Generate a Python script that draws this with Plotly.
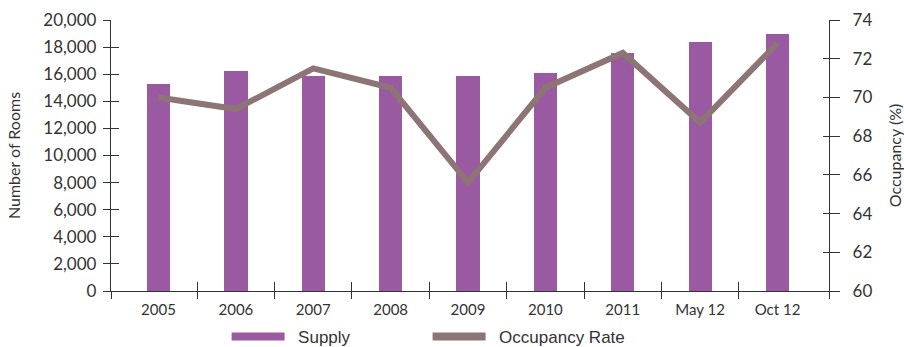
import plotly.graph_objects as go

# Hotel room supply and occupancy rate
periods = ["2005", "2006", "2007", "2008", "2009", "2010", "2011", "May 12", "Oct 12"]
supply = [15300, 16200, 15900, 15900, 15900, 16100, 17600, 18400, 19000]
occupancy = [70.0, 69.4, 71.5, 70.5, 65.6, 70.5, 72.3, 68.7, 72.8]

BAR_COLOR = "#9a5aa2"
LINE_COLOR = "#8e7575"
AXIS_COLOR = "#333333"
TEXT_COLOR = "#333333"

idx = list(range(len(periods)))
x_range = [-0.614, len(periods) - 1 + 0.665]
boundaries = [i + 0.5 for i in range(len(periods) - 1)]

fig = go.Figure()

# empty traces so the overlay axes (cross ticks) get rendered
for xa, ya in [("x3", "y"), ("x4", "y"), ("x", "y3"), ("x", "y4")]:
    fig.add_trace(go.Scatter(x=[None], y=[None], xaxis=xa, yaxis=ya,
                             showlegend=False, hoverinfo="skip"))

fig.add_trace(go.Bar(
    x=idx, y=supply, width=0.3, marker=dict(color=BAR_COLOR, line=dict(width=0)),
    name="Supply", showlegend=False, legendgroup="supply", yaxis="y",
))
fig.add_trace(go.Scatter(
    x=idx, y=occupancy, mode="lines", line=dict(color=LINE_COLOR, width=6),
    name="Occupancy Rate", showlegend=False, legendgroup="occ", yaxis="y2",
))
# legend swatches drawn as wide bands
fig.add_trace(go.Scatter(
    x=[None], y=[None], mode="lines", line=dict(color=BAR_COLOR, width=8),
    name="\u2002Supply", legendgroup="supply",
))
fig.add_trace(go.Scatter(
    x=[None], y=[None], mode="lines", line=dict(color=LINE_COLOR, width=8),
    name="\u2002Occupancy Rate", legendgroup="occ",
))

common_x = dict(range=x_range, type="linear", fixedrange=True)
tick_style = dict(tickwidth=1.3, tickcolor=AXIS_COLOR, showgrid=False,
                  zeroline=False)

fig.update_layout(
    width=904, height=347,
    margin=dict(l=111, r=75, t=20, b=56, autoexpand=False),
    paper_bgcolor="white", plot_bgcolor="rgba(0,0,0,0)",
    bargap=0,
    xaxis=dict(
        **common_x, tickmode="array", tickvals=idx, ticktext=periods,
        ticks="", showgrid=False, zeroline=False,
        showline=True, linecolor=AXIS_COLOR, linewidth=1.3,
        tickfont=dict(family="Lato", size=15, color=TEXT_COLOR), ticklabelstandoff=5,
    ),
    xaxis3=dict(
        **common_x, **tick_style, overlaying="x", anchor="y", side="bottom",
        tickmode="array", tickvals=[x_range[0]] + boundaries + [x_range[1]],
        ticks="outside", ticklen=7, showticklabels=False, showline=False,
    ),
    xaxis4=dict(
        **common_x, **tick_style, overlaying="x", anchor="y", side="bottom",
        tickmode="array", tickvals=boundaries,
        ticks="inside", ticklen=9, showticklabels=False, showline=False,
    ),
    yaxis=dict(
        range=[0, 20000], tickmode="linear", tick0=0, dtick=2000,
        tickformat=",d", ticks="outside", ticklen=7, **tick_style,
        showline=True, linecolor=AXIS_COLOR, linewidth=1.3,
        tickfont=dict(family="Lato", size=17, color=TEXT_COLOR), ticklabelstandoff=3,
        title=dict(text="Number of Rooms", font=dict(family="Lato", size=16, color=TEXT_COLOR), standoff=18),
    ),
    yaxis3=dict(
        range=[0, 20000], overlaying="y", anchor="x", side="left",
        tickmode="linear", tick0=0, dtick=2000, **tick_style,
        ticks="inside", ticklen=8, showticklabels=False, showline=False,
    ),
    yaxis2=dict(
        range=[60, 74], overlaying="y", anchor="x", side="right",
        tickmode="linear", tick0=60, dtick=2,
        ticks="outside", ticklen=10, **tick_style,
        showline=True, linecolor=AXIS_COLOR, linewidth=1.3,
        tickfont=dict(family="Lato", size=17, color=TEXT_COLOR), ticklabelstandoff=9,
        title=dict(text="Occupancy (%)", font=dict(family="Lato", size=16, color=TEXT_COLOR), standoff=22),
    ),
    yaxis4=dict(
        range=[60, 74], overlaying="y", anchor="x", side="right",
        tickmode="linear", tick0=60, dtick=2, **tick_style,
        ticks="inside", ticklen=6, showticklabels=False, showline=False,
    ),
    legend=dict(
        orientation="h", x=0.161, xanchor="left", y=-0.103, yanchor="top",
        font=dict(family="Liberation Sans", size=17, color=TEXT_COLOR),
        itemwidth=53, entrywidth=133, entrywidthmode="pixels",
        bgcolor="rgba(0,0,0,0)", tracegroupgap=0,
    ),
    showlegend=True,
)

fig.write_html("out.html")
